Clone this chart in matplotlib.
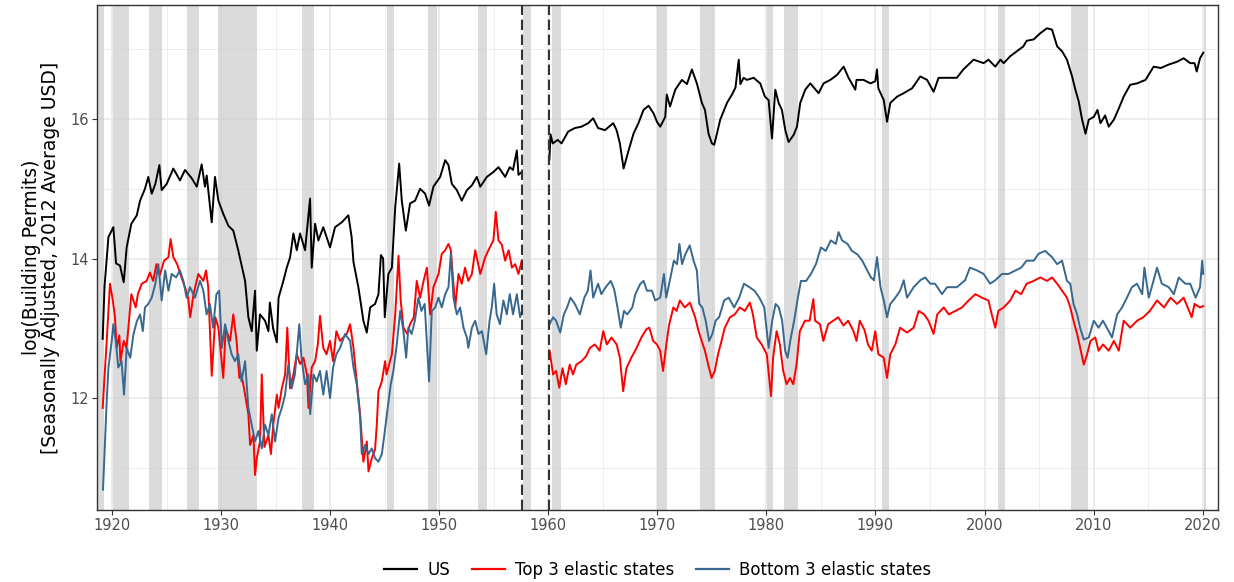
import numpy as np
import matplotlib
matplotlib.use("Agg")
import matplotlib.pyplot as plt
from matplotlib.lines import Line2D

# ---------------- data ----------------
us_years = [1919.13,1919.3,1919.66,1920.11,1920.36,1920.72,1921.06,1921.33,1921.76,1922.26,1922.56,1923.01,1923.31,1923.63,1923.96,1924.33,1924.54,1925.0,1925.61,1926.22,1926.68,1927.3,1927.76,1928.21,1928.51,1928.67,1929.13,1929.43,1929.74,1930.19,1930.66,1931.11,1931.56,1932.19,1932.49,1932.8,1933.1,1933.26,1933.56,1934.02,1934.33,1934.46,1934.76,1935.1,1935.26,1935.7,1936.01,1936.32,1936.62,1936.93,1937.23,1937.69,1938.15,1938.3,1938.61,1938.91,1939.36,1939.98,1940.44,1941.06,1941.66,1941.96,1942.13,1942.58,1943.04,1943.35,1943.66,1944.11,1944.42,1944.65,1944.85,1945.0,1945.33,1945.65,1945.96,1946.32,1946.56,1946.93,1947.32,1947.78,1948.24,1948.7,1949.06,1949.46,1950.08,1950.54,1950.84,1951.15,1951.61,1952.06,1952.53,1952.99,1953.44,1953.76,1954.36,1954.96,1955.43,1956.04,1956.46,1956.76,1957.11,1957.26,1957.56,
            1960.1,1960.2,1960.4,1960.86,1961.21,1961.82,1962.43,1963.04,1963.66,1964.11,1964.56,1965.19,1965.95,1966.26,1966.56,1966.9,1967.36,1967.81,1968.26,1968.73,1969.19,1969.65,1969.96,1970.26,1970.72,1970.86,1971.16,1971.64,1972.25,1972.71,1973.16,1973.62,1974.08,1974.36,1974.69,1975.0,1975.21,1975.46,1975.76,1976.38,1976.84,1977.16,1977.46,1977.61,1977.91,1978.21,1978.82,1979.43,1979.86,1980.2,1980.51,1980.81,1981.12,1981.42,1981.73,1982.03,1982.49,1982.8,1983.1,1983.56,1984.02,1984.78,1985.24,1985.86,1986.46,1987.08,1987.53,1988.15,1988.26,1988.91,1989.53,1989.98,1990.14,1990.26,1990.76,1991.06,1991.36,1991.98,1992.59,1993.36,1994.11,1994.73,1995.33,1995.79,1996.56,1997.46,1998.06,1999.0,1999.92,2000.36,2000.99,2001.46,2001.76,2002.36,2002.96,2003.56,2003.86,2004.51,2005.12,2005.73,2006.19,2006.66,2007.11,2007.56,2008.03,2008.33,2008.64,2008.95,2009.26,2009.56,2010.02,2010.36,2010.63,2011.06,2011.39,2011.86,2012.31,2012.76,2013.36,2013.99,2014.76,2015.51,2016.16,2016.89,2017.66,2018.26,2018.86,2019.26,2019.46,2019.76,2020.06]
us_vals = [12.85,13.6,14.31,14.45,13.93,13.9,13.66,14.16,14.5,14.62,14.83,15.0,15.17,14.93,15.07,15.34,14.98,15.07,15.29,15.12,15.27,15.15,15.03,15.35,15.03,15.19,14.52,15.17,14.83,14.64,14.47,14.40,14.12,13.68,13.16,12.96,13.54,12.68,13.2,13.11,12.96,13.37,13.0,12.80,13.44,13.68,13.87,14.02,14.36,14.12,14.36,14.12,14.86,13.87,14.5,14.26,14.45,14.16,14.45,14.52,14.62,14.31,13.95,13.59,13.11,12.94,13.3,13.35,13.49,14.05,14.0,13.16,13.78,13.87,14.74,15.36,14.83,14.4,14.79,14.83,15.0,14.93,14.76,15.03,15.17,15.41,15.34,15.07,14.98,14.83,14.98,15.05,15.17,15.03,15.17,15.24,15.31,15.17,15.31,15.27,15.55,15.2,15.24,
           15.42,15.78,15.65,15.7,15.65,15.82,15.87,15.89,15.94,16.01,15.87,15.84,15.94,15.84,15.65,15.29,15.55,15.79,15.94,16.13,16.19,16.08,15.96,15.89,16.03,16.35,16.18,16.42,16.56,16.5,16.71,16.51,16.23,16.13,15.79,15.65,15.63,15.79,15.99,16.23,16.35,16.45,16.85,16.5,16.59,16.56,16.59,16.51,16.32,16.27,15.72,16.42,16.23,16.13,15.84,15.67,15.77,15.89,16.23,16.42,16.51,16.37,16.51,16.56,16.63,16.75,16.59,16.42,16.56,16.56,16.51,16.54,16.71,16.44,16.27,15.96,16.23,16.32,16.37,16.44,16.61,16.56,16.39,16.59,16.59,16.59,16.71,16.85,16.80,16.85,16.75,16.85,16.80,16.9,16.97,17.04,17.12,17.14,17.23,17.30,17.28,17.04,16.97,16.85,16.61,16.42,16.25,15.99,15.79,15.99,16.03,16.13,15.94,16.05,15.89,15.99,16.15,16.32,16.49,16.51,16.56,16.75,16.73,16.78,16.82,16.87,16.80,16.80,16.68,16.87,16.95]

top_years = [1919.13,1919.5,1919.8,1920.06,1920.26,1920.41,1920.66,1920.76,1921.06,1921.31,1921.46,1921.76,1922.16,1922.36,1922.71,1923.16,1923.46,1923.76,1924.06,1924.36,1924.76,1925.16,1925.36,1925.61,1925.96,1926.36,1926.68,1926.96,1927.16,1927.46,1927.9,1928.36,1928.61,1928.81,1929.13,1929.46,1929.74,1930.19,1930.41,1930.81,1931.11,1931.41,1931.66,1931.86,1932.19,1932.49,1932.65,1932.96,1933.1,1933.26,1933.56,1933.72,1933.96,1934.33,1934.56,1934.76,1935.1,1935.26,1935.56,1935.86,1936.06,1936.31,1936.62,1936.93,1937.23,1937.54,1937.86,1938.0,1938.3,1938.61,1938.86,1939.06,1939.36,1939.66,1939.98,1940.26,1940.56,1940.9,1941.21,1941.51,1941.82,1942.13,1942.43,1942.74,1943.04,1943.35,1943.51,1943.81,1944.11,1944.26,1944.42,1944.73,1945.03,1945.16,1945.65,1945.96,1946.26,1946.46,1946.71,1947.06,1947.32,1947.66,1947.93,1948.24,1948.56,1948.86,1949.16,1949.46,1949.93,1950.23,1950.54,1950.84,1951.06,1951.3,1951.46,1951.76,1952.06,1952.36,1952.66,1952.99,1953.29,1953.76,1954.21,1954.66,1954.96,1955.18,1955.43,1955.73,1956.04,1956.36,1956.66,1956.96,1957.26,1957.56,
             1960.12,1960.43,1960.71,1961.0,1961.3,1961.6,1961.96,1962.26,1962.56,1963.04,1963.46,1963.81,1964.26,1964.71,1965.03,1965.36,1965.79,1966.26,1966.56,1966.86,1967.16,1967.61,1968.09,1968.53,1969.0,1969.26,1969.61,1969.96,1970.26,1970.52,1970.82,1971.06,1971.46,1971.76,1972.06,1972.51,1972.98,1973.46,1973.76,1974.06,1974.36,1974.66,1974.97,1975.26,1975.56,1975.88,1976.18,1976.66,1977.09,1977.56,1978.02,1978.48,1978.76,1979.11,1979.56,1980.03,1980.42,1980.61,1980.93,1981.23,1981.54,1981.85,1982.16,1982.46,1982.76,1983.06,1983.53,1983.96,1984.3,1984.46,1984.91,1985.22,1985.66,1986.12,1986.59,1987.06,1987.49,1987.96,1988.26,1988.56,1989.01,1989.31,1989.66,1989.98,1990.26,1990.76,1991.06,1991.36,1991.82,1992.26,1992.89,1993.5,1993.96,1994.46,1994.86,1995.33,1995.66,1996.26,1996.72,1997.32,1997.93,1998.54,1999.16,1999.76,2000.36,2000.66,2000.99,2001.26,2001.76,2002.36,2002.83,2003.36,2003.86,2004.51,2005.12,2005.73,2006.19,2006.66,2007.11,2007.56,2007.86,2008.16,2008.49,2008.76,2009.1,2009.41,2009.71,2010.16,2010.46,2010.86,2011.39,2011.86,2012.31,2012.76,2013.36,2013.99,2014.56,2015.16,2015.82,2016.46,2017.06,2017.66,2018.26,2019.0,2019.26,2019.76,2020.06]
top_vals = [11.86,12.82,13.64,13.4,13.16,12.72,12.9,12.53,12.82,12.72,12.96,13.49,13.3,13.49,13.64,13.68,13.80,13.68,13.92,13.76,13.97,14.02,14.28,14.02,13.92,13.73,13.59,13.44,13.16,13.49,13.78,13.68,13.83,13.59,12.32,13.16,13.01,12.29,13.0,12.82,13.2,12.82,12.29,12.34,12.05,11.77,11.33,11.47,10.9,11.14,11.38,12.34,11.3,11.47,11.2,11.6,12.05,11.86,12.14,12.34,13.01,12.14,12.34,12.63,12.49,12.58,12.34,11.86,12.44,12.53,12.77,13.18,12.72,12.63,12.82,12.53,12.96,12.82,12.87,12.92,13.06,12.72,12.24,11.77,11.09,11.38,10.95,11.14,11.27,11.6,12.1,12.24,12.53,12.34,12.63,13.2,14.04,13.4,13.01,12.92,13.06,13.16,13.68,13.44,13.68,13.87,13.2,13.59,13.78,14.07,14.12,14.21,14.12,13.64,13.3,13.78,13.64,13.87,13.68,13.78,14.12,13.78,14.02,14.17,14.26,14.67,14.26,14.2,13.97,14.12,13.87,13.92,13.78,13.97,
            12.68,12.34,12.39,12.15,12.43,12.2,12.48,12.34,12.48,12.53,12.6,12.72,12.77,12.68,12.96,12.77,12.87,12.77,12.58,12.10,12.43,12.58,12.72,12.87,12.99,13.01,12.82,12.77,12.68,12.39,12.77,13.04,13.30,13.25,13.4,13.3,13.37,13.16,12.97,12.82,12.68,12.48,12.29,12.39,12.63,12.82,13.01,13.16,13.2,13.3,13.25,13.37,13.2,12.87,12.77,12.63,12.03,12.58,12.96,12.77,12.39,12.20,12.29,12.2,12.48,12.96,13.11,13.11,13.42,13.11,13.06,12.82,13.06,13.11,13.16,13.04,13.11,12.97,12.82,13.11,12.97,12.77,12.68,12.96,12.63,12.58,12.29,12.63,12.77,13.01,12.94,13.01,13.25,13.2,13.11,12.92,13.2,13.30,13.2,13.25,13.3,13.4,13.49,13.44,13.4,13.2,13.01,13.25,13.3,13.4,13.54,13.49,13.64,13.68,13.73,13.68,13.73,13.64,13.54,13.44,13.3,13.11,12.92,12.73,12.48,12.63,12.82,12.87,12.68,12.77,12.68,12.82,12.68,13.11,13.01,13.11,13.16,13.25,13.4,13.3,13.44,13.35,13.44,13.16,13.35,13.3,13.32]

bottom_years = [1919.16,1919.5,1919.66,1919.96,1920.11,1920.36,1920.56,1920.86,1921.09,1921.33,1921.66,1921.96,1922.26,1922.56,1922.81,1923.01,1923.31,1923.63,1923.96,1924.23,1924.54,1924.86,1925.16,1925.46,1925.86,1926.22,1926.53,1926.83,1927.14,1927.59,1928.06,1928.36,1928.66,1928.96,1929.26,1929.56,1929.81,1930.06,1930.36,1930.66,1930.96,1931.26,1931.56,1931.86,1932.19,1932.49,1932.8,1933.1,1933.41,1933.72,1934.02,1934.33,1934.64,1934.94,1935.26,1935.56,1935.86,1936.16,1936.46,1936.76,1937.16,1937.36,1937.69,1938.0,1938.16,1938.46,1938.76,1939.06,1939.36,1939.66,1939.98,1940.26,1940.56,1940.9,1941.36,1941.82,1942.13,1942.43,1942.74,1942.89,1943.19,1943.51,1943.81,1944.11,1944.42,1944.73,1944.96,1945.3,1945.55,1945.79,1946.1,1946.41,1946.71,1946.96,1947.16,1947.46,1947.76,1948.08,1948.36,1948.66,1949.06,1949.31,1949.62,1949.93,1950.23,1950.54,1950.84,1951.06,1951.3,1951.61,1951.91,1952.22,1952.53,1952.66,1952.99,1953.29,1953.59,1953.91,1954.3,1954.61,1954.81,1955.03,1955.26,1955.56,1955.88,1956.19,1956.46,1956.76,1957.11,1957.41,1957.6,
                1960.12,1960.43,1960.71,1961.09,1961.42,1961.72,1962.03,1962.43,1962.89,1963.3,1963.62,1963.87,1964.11,1964.56,1964.86,1965.26,1965.72,1966.04,1966.34,1966.64,1966.94,1967.24,1967.7,1967.98,1968.44,1968.74,1969.04,1969.5,1969.8,1970.26,1970.6,1970.81,1971.2,1971.51,1971.8,1972.02,1972.26,1972.56,1972.96,1973.32,1973.62,1973.84,1974.12,1974.43,1974.74,1975.04,1975.34,1975.66,1976.12,1976.54,1977.04,1977.5,1977.94,1978.44,1978.9,1979.35,1979.8,1980.2,1980.53,1980.84,1981.14,1981.44,1981.72,1981.94,1982.24,1982.54,1982.84,1983.16,1983.64,1984.08,1984.54,1985.0,1985.44,1985.9,1986.37,1986.61,1986.94,1987.44,1987.84,1988.34,1988.79,1989.24,1989.59,1989.86,1990.14,1990.46,1990.76,1991.06,1991.36,1991.82,1992.26,1992.59,1992.89,1993.5,1994.11,1994.56,1995.03,1995.46,1996.1,1996.56,1997.46,1998.22,1998.66,1999.31,1999.92,2000.51,2000.99,2001.6,2002.21,2002.83,2003.36,2003.86,2004.51,2004.96,2005.56,2006.19,2006.66,2007.11,2007.56,2007.86,2008.16,2008.49,2008.76,2009.1,2009.56,2010.02,2010.46,2010.86,2011.39,2011.69,2012.16,2012.61,2013.06,2013.51,2013.99,2014.46,2014.66,2015.06,2015.51,2015.82,2016.26,2016.89,2017.36,2017.81,2018.41,2018.86,2019.36,2019.76,2019.96,2020.06]
bottom_vals = [10.69,11.96,12.44,12.82,13.06,12.78,12.44,12.53,12.05,12.72,12.58,12.92,13.1,13.2,12.96,13.3,13.35,13.44,13.64,13.92,13.4,13.83,13.54,13.78,13.73,13.83,13.68,13.44,13.59,13.44,13.68,13.54,13.2,13.35,13.01,13.49,13.54,12.72,13.06,12.82,12.63,12.53,12.63,12.24,12.53,11.86,11.62,11.38,11.53,11.28,11.62,11.47,11.77,11.38,11.72,11.86,12.05,12.48,12.14,12.34,13.06,12.58,12.2,12.34,11.77,12.34,12.24,12.39,12.05,12.39,12.0,12.44,12.63,12.72,12.92,12.82,12.44,12.2,11.72,11.2,11.33,11.2,11.28,11.14,11.09,11.2,11.47,11.9,12.2,12.39,12.77,13.25,12.96,12.58,13.01,12.92,13.11,13.44,13.25,13.35,12.24,13.25,13.3,13.44,13.3,13.49,13.59,14.07,13.44,13.2,13.3,13.01,12.87,12.72,13.01,13.11,12.92,12.96,12.63,13.11,13.3,13.64,13.2,13.06,13.4,13.2,13.49,13.2,13.49,13.16,13.25,
               13.06,13.16,13.11,12.94,13.2,13.30,13.44,13.35,13.2,13.44,13.54,13.83,13.44,13.64,13.49,13.59,13.68,13.56,13.3,13.01,13.25,13.2,13.3,13.49,13.64,13.68,13.54,13.54,13.4,13.44,13.78,13.44,13.73,13.97,13.92,14.21,13.92,14.06,14.19,13.97,13.83,13.35,13.3,13.11,12.82,12.92,13.11,13.16,13.4,13.44,13.3,13.44,13.64,13.59,13.54,13.44,13.3,12.72,13.11,13.35,13.3,13.11,12.68,12.58,12.87,13.11,13.4,13.68,13.68,13.78,13.92,14.16,14.11,14.26,14.21,14.38,14.26,14.21,14.11,14.06,13.97,13.83,13.73,13.69,14.02,13.59,13.4,13.16,13.35,13.44,13.54,13.69,13.44,13.59,13.69,13.73,13.64,13.64,13.49,13.59,13.59,13.69,13.87,13.83,13.78,13.64,13.69,13.78,13.78,13.83,13.87,13.97,13.97,14.07,14.11,14.02,13.92,13.97,13.68,13.64,13.35,13.2,13.01,12.84,12.87,13.11,13.01,13.11,12.96,12.87,13.2,13.3,13.44,13.59,13.64,13.49,13.87,13.44,13.69,13.87,13.64,13.59,13.49,13.73,13.64,13.64,13.44,13.59,13.97,13.78]

recession_starts = [1918.67,1920.08,1923.42,1926.83,1929.67,1937.42,1945.17,1948.92,1953.58,1957.67,1960.33,1969.92,1973.92,1980.08,1981.58,1990.58,2001.25,2007.92,2020.1]
recession_ends   = [1919.25,1921.58,1924.58,1927.92,1933.25,1938.5,1945.83,1949.83,1954.42,1958.42,1961.17,1970.92,1975.25,1980.58,1982.92,1991.25,2001.92,2009.5,2020.35]

gap_lines = [1957.61, 1960.09]

series_labels = ["US", "Top 3 elastic states", "Bottom 3 elastic states"]
series_colors = ["#000000", "#FF0000", "#386890"]

x_ticks = list(range(1920, 2021, 10))
y_ticks = [12, 14, 16]

# ---------------- figure ----------------
plt.rcParams['font.family'] = ['DejaVu Sans']
fig = plt.figure(figsize=(12.34, 5.82), dpi=100)
ax = fig.add_axes([97/1234, 1 - 510/582, (1218 - 97)/1234, (510 - 5)/582])
ax.set_facecolor("white")

ax.set_xlim(1918.61, 2021.41)
ax.set_ylim(10.398, 17.633)

# grid
for x in np.arange(1925, 2020, 10):
    ax.axvline(x, color="#EBEBEB", lw=0.6, zorder=0)
for y in [11, 13, 15, 17]:
    ax.axhline(y, color="#EBEBEB", lw=0.6, zorder=0)
for x in x_ticks:
    ax.axvline(x, color="#EBEBEB", lw=1.3, zorder=0)
for y in y_ticks:
    ax.axhline(y, color="#EBEBEB", lw=1.3, zorder=0)

# recessions
for s, e in zip(recession_starts, recession_ends):
    ax.axvspan(s, e, color="#CFCFCF", alpha=0.75, lw=0, zorder=1)


def plot_split(years, vals, color, label):
    years = np.asarray(years, float)
    vals = np.asarray(vals, float)
    brk = np.where(np.diff(years) > 2)[0]
    segs = np.split(np.arange(len(years)), brk + 1)
    for i, idx in enumerate(segs):
        ax.plot(years[idx], vals[idx], color=color, lw=1.4, zorder=3,
                solid_joinstyle="round", label=label if i == 0 else None)


plot_split(us_years, us_vals, series_colors[0], series_labels[0])
plot_split(top_years, top_vals, series_colors[1], series_labels[1])
plot_split(bottom_years, bottom_vals, series_colors[2], series_labels[2])

for g in gap_lines:
    ax.axvline(g, color="#333333", lw=1.5, ls=(0, (5, 2.2)), zorder=4)

ax.set_xticks(x_ticks)
ax.set_yticks(y_ticks)
ax.tick_params(axis="both", direction="out", length=3.5, width=0.8,
               color="#333333", labelcolor="#4D4D4D", labelsize=10.5, pad=2)
for sp in ax.spines.values():
    sp.set_color("#333333")
    sp.set_linewidth(1.0)

ax.set_ylabel("log(Building Permits)\n[Seasonally Adjusted, 2012 Average USD]",
              fontsize=13.5, color="black", labelpad=8, linespacing=0.95)

handles = [Line2D([0], [0], color=c, lw=1.6) for c in series_colors]
cx = (97 + 1218) / 2 / 1234
fig.legend(handles, series_labels, loc="lower center", bbox_to_anchor=(cx, -0.02),
           ncol=3, frameon=False, fontsize=12, handlelength=2.0,
           handletextpad=0.6, columnspacing=1.3)

fig.savefig("out.png", dpi=100)
